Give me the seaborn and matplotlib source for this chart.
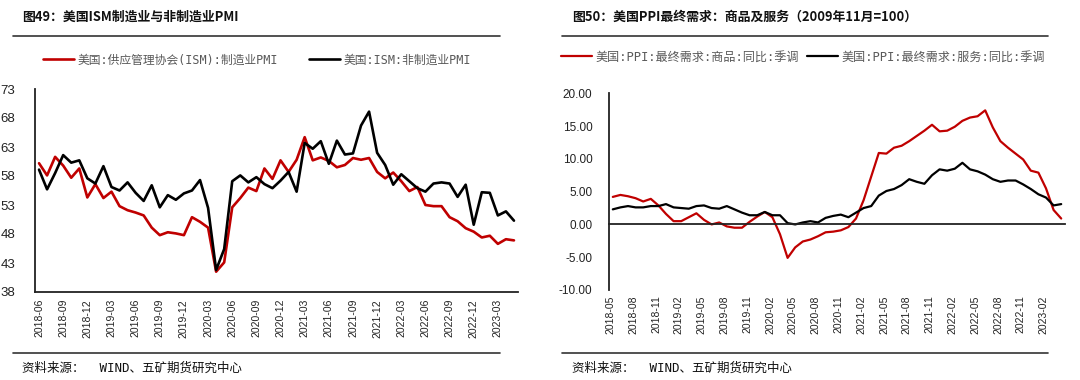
import numpy as np
import pandas as pd
import matplotlib.pyplot as plt
import seaborn as sns
from matplotlib.lines import Line2D

# ------------------ Data ------------------
# ISM PMI, monthly 2018-06 .. 2023-05
pmi_months = pd.period_range('2018-06', periods=60, freq='M').strftime('%Y-%m')
ism_mfg = [60.2, 58.1, 61.3, 59.8, 57.7, 59.3, 54.3,
           56.6, 54.2, 55.3, 52.8, 52.1, 51.7, 51.2, 49.1, 47.8, 48.3, 48.1, 47.8,
           50.9, 50.1, 49.1, 41.5, 43.1, 52.6, 54.2, 56.0, 55.4, 59.3, 57.5, 60.7,
           58.7, 60.8, 64.7, 60.7, 61.2, 60.6, 59.5, 59.9, 61.1, 60.8, 61.1, 58.7,
           57.6, 58.6, 57.1, 55.4, 56.1, 53.0, 52.8, 52.8, 50.9, 50.2, 49.0, 48.4,
           47.4, 47.7, 46.3, 47.1, 46.9]
ism_srv = [59.1, 55.7, 58.5, 61.6, 60.3, 60.7, 57.6,
           56.7, 59.7, 56.1, 55.5, 56.9, 55.1, 53.7, 56.4, 52.6, 54.7, 53.9, 55.0,
           55.5, 57.3, 52.5, 41.8, 45.4, 57.1, 58.1, 56.9, 57.8, 56.6, 55.9, 57.2,
           58.7, 55.3, 63.7, 62.7, 64.0, 60.1, 64.1, 61.7, 61.9, 66.7, 69.1, 62.0,
           59.9, 56.5, 58.3, 57.1, 55.9, 55.3, 56.7, 56.9, 56.7, 54.4, 56.5, 49.6,
           55.2, 55.1, 51.2, 51.9, 50.3]
pmi_ticklabels = ['2018-06', '2018-09', '2018-12', '2019-03', '2019-06', '2019-09', '2019-12',
                  '2020-03', '2020-06', '2020-09', '2020-12', '2021-03', '2021-06', '2021-09',
                  '2021-12', '2022-03', '2022-06', '2022-09', '2022-12', '2023-03']

# PPI final demand yoy, monthly 2018-05 .. 2023-04
ppi_months = pd.period_range('2018-05', periods=60, freq='M').strftime('%Y-%m')
ppi_goods = [4.2, 4.5, 4.3, 4.0, 3.5, 3.9, 2.9, 1.6, 0.5, 0.5, 1.1, 1.7, 0.7, 0.0, 0.3,
             -0.3, -0.5, -0.5, 0.4, 1.2, 1.9, 1.1, -1.5, -5.1, -3.5, -2.6, -2.3, -1.8,
             -1.2, -1.1, -0.9, -0.4, 0.9, 3.7, 7.3, 10.9, 10.8, 11.7, 12.0, 12.7, 13.5,
             14.3, 15.2, 14.2, 14.3, 14.9, 15.8, 16.3, 16.5, 17.4, 14.8, 12.7, 11.7,
             10.8, 9.9, 8.2, 7.9, 5.5, 2.2, 0.9]
ppi_services = [2.3, 2.6, 2.8, 2.6, 2.6, 2.8, 2.8, 3.1, 2.6, 2.5, 2.4, 2.8, 2.9, 2.5, 2.4,
                2.8, 2.3, 1.8, 1.4, 1.4, 1.9, 1.4, 1.4, 0.2, 0.0, 0.3, 0.5, 0.3, 1.0,
                1.3, 1.5, 1.1, 1.8, 2.5, 2.8, 4.4, 5.1, 5.4, 6.0, 6.9, 6.5, 6.2, 7.5,
                8.4, 8.2, 8.5, 9.4, 8.4, 8.1, 7.6, 6.9, 6.5, 6.7, 6.7, 6.1, 5.4, 4.6,
                4.1, 2.9, 3.1]
ppi_ticklabels = ['2018-05', '2018-08', '2018-11', '2019-02', '2019-05', '2019-08', '2019-11',
                  '2020-02', '2020-05', '2020-08', '2020-11', '2021-02', '2021-05', '2021-08',
                  '2021-11', '2022-02', '2022-05', '2022-08', '2022-11', '2023-02']

# ------------------ Style ------------------
sns.set_theme(style='white')
plt.rcParams['font.family'] = ['Noto Sans CJK SC', 'DejaVu Sans']
plt.rcParams['axes.unicode_minus'] = False

RED = '#C00000'
BLACK = '#000000'
MONO = ['DejaVu Sans Mono', 'Noto Sans CJK SC']
W, H = 1080, 380

fig = plt.figure(figsize=(W / 100, H / 100), dpi=100)

df_pmi = pd.DataFrame({'x': np.arange(len(pmi_months)), 'mfg': ism_mfg, 'srv': ism_srv})
df_ppi = pd.DataFrame({'x': np.arange(len(ppi_months)), 'goods': ppi_goods, 'srv': ppi_services})


def fx(px):
    return px / W


def fy(py):
    return 1 - py / H


# ------------------ Left: ISM PMI ------------------
ax1 = fig.add_axes([fx(35), fy(292), fx(483), 203 / H])
sns.lineplot(data=df_pmi, x='x', y='mfg', color=RED, lw=1.9, ax=ax1,
             label='美国:供应管理协会(ISM):制造业PMI')
sns.lineplot(data=df_pmi, x='x', y='srv', color=BLACK, lw=1.9, ax=ax1,
             label='美国:ISM:非制造业PMI')
ax1.set_xlim(-0.5, len(pmi_months) - 0.5)
ax1.set_ylim(38, 73)
ax1.set_yticks(np.arange(38, 74, 5))
ax1.set_xticks(np.arange(0, len(pmi_months) + 1, 3) - 0.5)
ax1.set_xticklabels([])
ax1.set_xticks(np.arange(0, len(pmi_months), 3), pmi_ticklabels, minor=True, rotation=90)
ax1.tick_params(axis='x', which='major', direction='out', length=4, width=1.2, color='#222222')
ax1.tick_params(axis='x', which='minor', length=0, labelsize=7.5, pad=5, labelcolor='#222222')
ax1.tick_params(axis='y', direction='out', length=4, width=1.2, labelsize=9.5,
                color='#222222', labelcolor='#222222', pad=10)
ax1.set_xlabel('')
ax1.set_ylabel('')
for s in ['top', 'right']:
    ax1.spines[s].set_visible(False)
for s in ['left', 'bottom']:
    ax1.spines[s].set_color('#222222')
    ax1.spines[s].set_linewidth(1.3)
for lbl in ax1.get_xticklabels(minor=True) + ax1.get_yticklabels():
    lbl.set_family(['Liberation Sans', 'DejaVu Sans'])
leg1 = ax1.legend(loc='center', bbox_to_anchor=(fx(257), fy(60)), bbox_transform=fig.transFigure,
                  ncol=2, frameon=False, fontsize=8.5, labelcolor='#595959', handlelength=2.6,
                  columnspacing=2.6, handletextpad=0.3)
for t in leg1.get_texts():
    t.set_family(MONO)

# ------------------ Right: PPI final demand ------------------
ax2 = fig.add_axes([fx(609), fy(290), fx(456), 196.7 / H])
sns.lineplot(data=df_ppi, x='x', y='goods', color=RED, lw=1.6, ax=ax2,
             label='美国:PPI:最终需求:商品:同比:季调')
sns.lineplot(data=df_ppi, x='x', y='srv', color=BLACK, lw=1.6, ax=ax2,
             label='美国:PPI:最终需求:服务:同比:季调')
ax2.set_xlim(-0.5, len(ppi_months) - 0.5)
ax2.set_ylim(-10, 20)
ax2.set_yticks(np.arange(-10, 21, 5))
ax2.yaxis.set_major_formatter(plt.FormatStrFormatter('%.2f'))
ax2.spines['bottom'].set_position(('data', 0))
ax2.set_xticks(np.arange(0, len(ppi_months) + 1, 3) - 0.5)
ax2.tick_params(axis='x', direction='out', length=4, width=1.2, color='#222222', labelbottom=False)
ax2.tick_params(axis='y', direction='out', length=4, width=1.2, labelsize=8.5,
                color='#222222', labelcolor='#222222', pad=8)
ax2.set_xlabel('')
ax2.set_ylabel('')
for s in ['top', 'right']:
    ax2.spines[s].set_visible(False)
for s in ['left', 'bottom']:
    ax2.spines[s].set_color('#222222')
    ax2.spines[s].set_linewidth(1.3)
sec = ax2.secondary_xaxis('bottom')
sec.spines['bottom'].set_visible(False)
sec.set_xticks(np.arange(0, len(ppi_months), 3) - 0.3, ppi_ticklabels, rotation=90)
sec.tick_params(length=0, labelsize=7.5, pad=4, labelcolor='#222222')
for lbl in sec.get_xticklabels() + ax2.get_yticklabels():
    lbl.set_family(['Liberation Sans', 'DejaVu Sans'])
leg2 = ax2.legend(loc='center', bbox_to_anchor=(fx(803), fy(57)), bbox_transform=fig.transFigure,
                  ncol=2, frameon=False, fontsize=8.7, labelcolor='#595959', handlelength=2.6,
                  columnspacing=0.6, handletextpad=0.3)
for t in leg2.get_texts():
    t.set_family(MONO)

# ------------------ Titles, rules, source ------------------
fig.text(fx(22), fy(17), '图49：美国ISM制造业与非制造业PMI', fontsize=9.3, fontweight='bold',
         va='center', ha='left', color='#111111')
fig.text(fx(572), fy(17), '图50：美国PPI最终需求：商品及服务（2009年11月=100）', fontsize=9.3,
         fontweight='bold', va='center', ha='left', color='#111111')
for x0, x1 in [(13, 500), (562, 1048)]:
    fig.add_artist(Line2D([fx(x0), fx(x1)], [fy(36), fy(36)], color='#333333', lw=1.2))
    fig.add_artist(Line2D([fx(x0), fx(x1)], [fy(353), fy(353)], color='#333333', lw=1.2))
for x0 in [22, 572]:
    fig.text(fx(x0), fy(368), '资料来源：  WIND、五矿期货研究中心', fontsize=9, va='center', ha='left',
             color='#111111', family=MONO)

fig.savefig('out.png', dpi=100)
